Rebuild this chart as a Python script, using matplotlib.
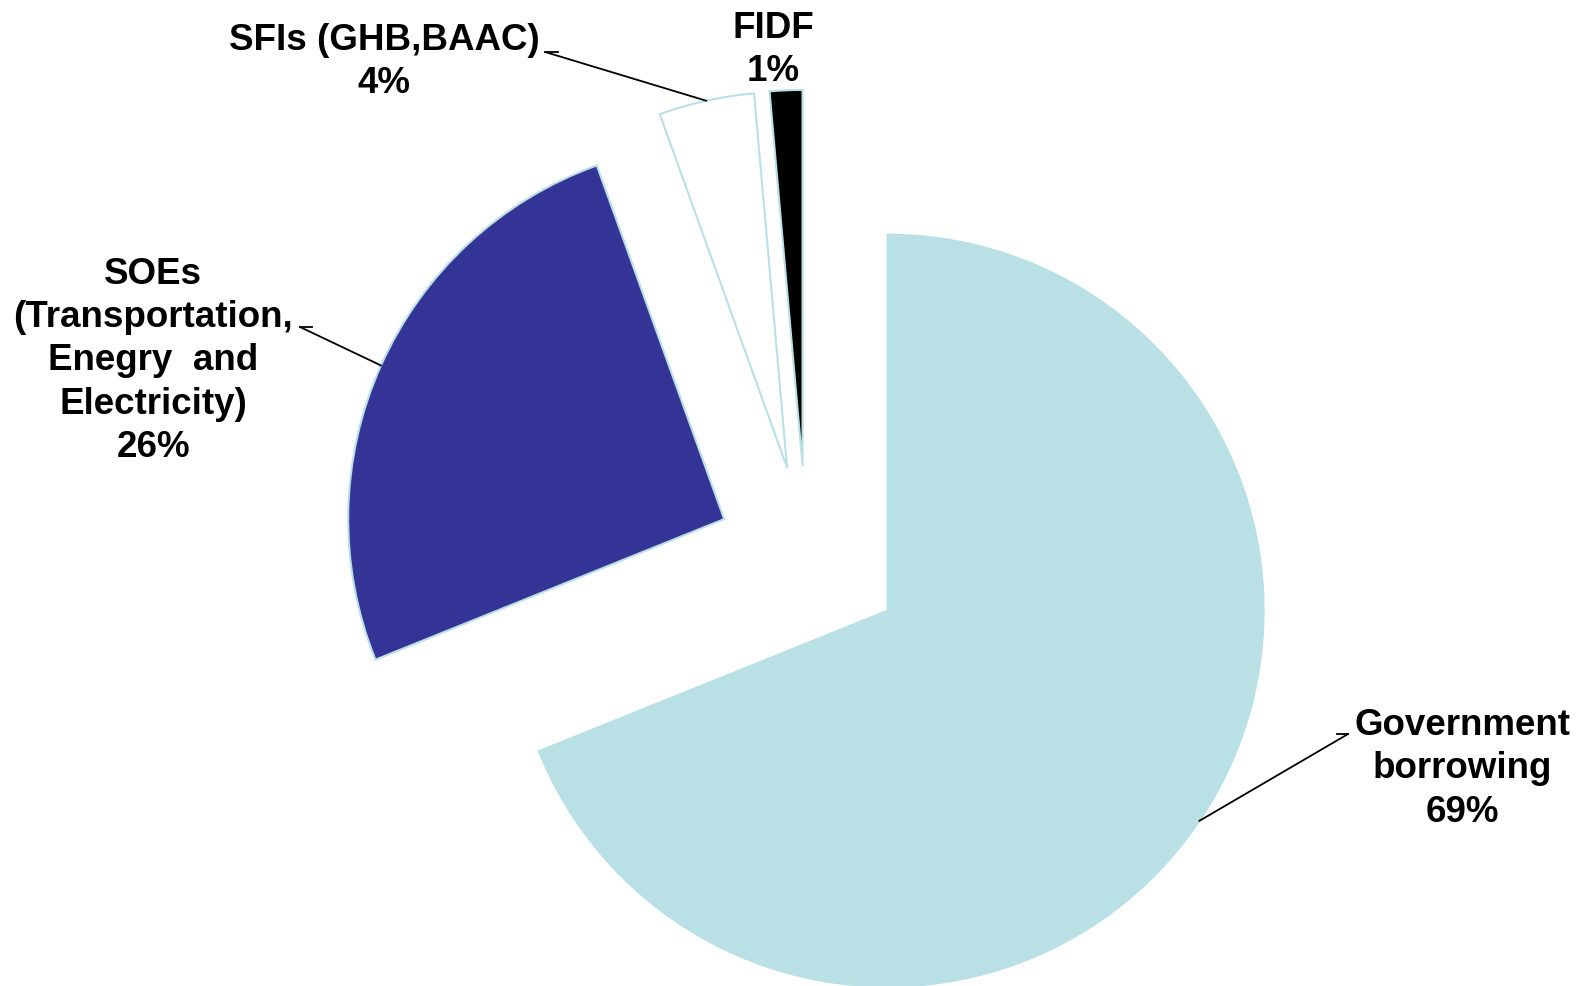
import numpy as np
import matplotlib.pyplot as plt

# pie shares (clockwise from 12 o'clock)
sectors = ["Government\nborrowing", "SOEs\n(Transportation,\nEnegry  and\nElectricity)",
           "SFIs (GHB,BAAC)", "FIDF"]
shares = [68.9, 25.6, 4.1, 1.4]
pct_labels = ["69%", "26%", "4%", "1%"]
colors = ["#B9E0E4", "#343496", "#FFFFFF", "#000000"]

fig = plt.figure(figsize=(15.83, 9.86), dpi=100)
ax = fig.add_axes([0, 0, 1, 1])

wedges, _ = ax.pie(
    shares,
    colors=colors,
    explode=[0.26, 0.24, 0.24, 0.24],
    startangle=90,
    counterclock=False,
    radius=1.0,
    wedgeprops=dict(edgecolor="#B9E0E4", linewidth=1.5),
)

ax.set_aspect("auto")
ax.set_xlim(-2.145, 2.065)
ax.set_ylim(-1.144, 1.479)
ax.axis("off")

font = dict(family=["Liberation Sans", "DejaVu Sans"], fontsize=26.5,
            fontweight="bold", ha="center", va="center", linespacing=1.30,
            transform=ax.transAxes)

# label centres and leader stubs, in axes fractions (layout only)
text_pos = [(0.9236, 0.2201), (0.0967, 0.6339), (0.2426, 0.9371), (0.4883, 0.9493)]
stubs = [(0.8446, 0.8516, 0.2556), (0.1971, 0.1895, 0.6684), (0.3525, 0.3443, 0.9473), None]

for w, name, pct, tp, stub in zip(wedges, sectors, pct_labels, text_pos, stubs):
    ax.text(tp[0], tp[1], f"{name}\n{pct}", **font)
    if stub is None:
        continue
    mid = np.deg2rad((w.theta1 + w.theta2) / 2)
    anchor = (w.center[0] + w.r * np.cos(mid), w.center[1] + w.r * np.sin(mid))
    x_text, x_pie, sy = stub
    ax.plot([x_text, x_pie], [sy, sy], color="black", lw=1.3, transform=ax.transAxes)
    ax.annotate("", xy=anchor, xycoords="data", xytext=(x_pie, sy),
                textcoords="axes fraction",
                arrowprops=dict(arrowstyle="-", color="black", lw=1.3,
                                shrinkA=0, shrinkB=0))

fig.savefig("out.png", dpi=100)
